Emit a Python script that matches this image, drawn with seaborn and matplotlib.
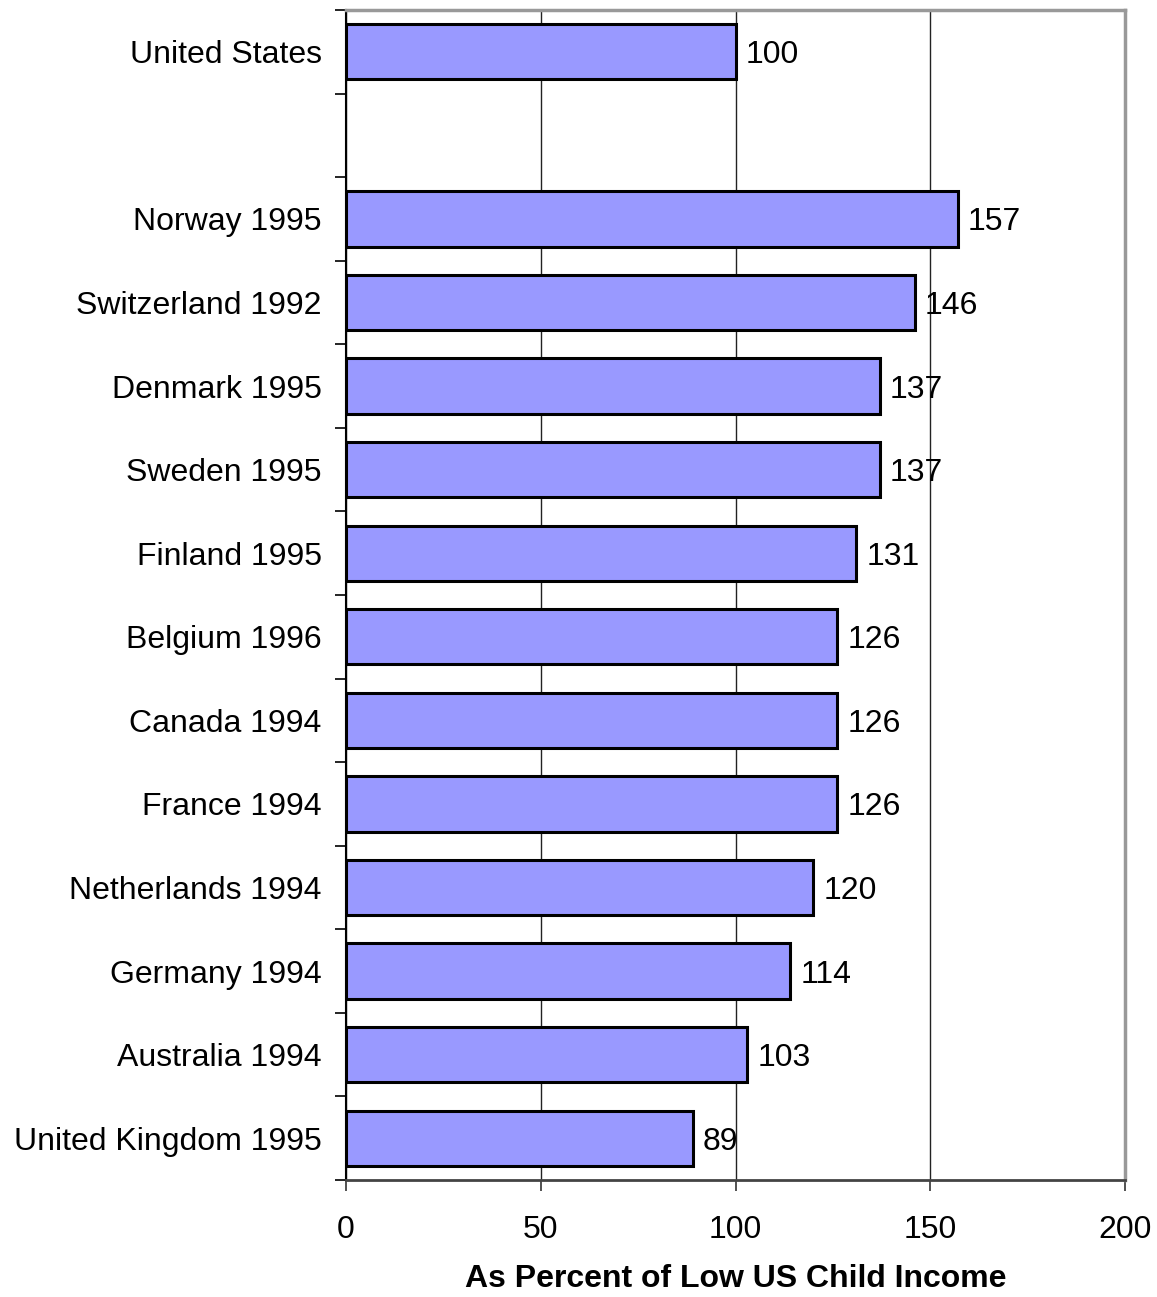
import matplotlib
matplotlib.use("Agg")
import matplotlib.pyplot as plt
import seaborn as sns
import pandas as pd
import numpy as np
from matplotlib.ticker import FixedLocator

categories = ["United States", "Norway 1995", "Switzerland 1992", "Denmark 1995",
              "Sweden 1995", "Finland 1995", "Belgium 1996", "Canada 1994",
              "France 1994", "Netherlands 1994", "Germany 1994", "Australia 1994",
              "United Kingdom 1995"]
values = [100, 157, 146, 137, 137, 131, 126, 126, 126, 120, 114, 103, 89]
order = ["United States", " "] + categories[1:]
x_ticks = [0, 50, 100, 150, 200]
xlabel = "As Percent of Low US Child Income"

sns.set_theme(style="white")
plt.rcParams['font.family'] = ['Liberation Sans', 'DejaVu Sans']

FS = 23

df = pd.DataFrame({"country": categories, "value": values})

fig = plt.figure(figsize=(11.57, 12.97), dpi=100)
ax = fig.add_axes([346/1157, 1 - 1180/1297, (1125-346)/1157, (1180-10)/1297])

sns.barplot(data=df, x="value", y="country", order=order, orient="h",
            color="#9999FF", saturation=1, width=0.66,
            edgecolor="black", linewidth=2.2, ax=ax, zorder=3)

for c in ax.containers:
    labels = [f"{v:.0f}" if np.isfinite(v) else "" for v in c.datavalues]
    texts = ax.bar_label(c, labels=labels, padding=7.5, fontsize=FS, color="black")
    for t in texts:
        t.set_va("center_baseline")

n = len(order)
ax.set_xlim(0, 200)
ax.set_ylim(n - 0.5, -0.5)
ax.set_xticks(x_ticks)
ax.set_xticklabels([str(t) for t in x_ticks])
ax.set_yticks(range(n))
ax.set_yticklabels(order)
ax.yaxis.set_minor_locator(FixedLocator(np.arange(-0.5, n + 0.5, 1)))
ax.tick_params(axis="y", which="major", length=0, pad=17.5, labelsize=FS, labelcolor="black")
ax.tick_params(axis="y", which="minor", left=True, length=8, width=1.2, color="black")
ax.tick_params(axis="x", which="major", bottom=True, length=8, width=1.2, color="#333333",
               pad=17, labelsize=FS, labelcolor="black")

ax.grid(axis="x", color="#222222", linewidth=1, zorder=0)
ax.grid(axis="y", visible=False)
ax.set_axisbelow(True)

ax.set_ylabel("")
ax.set_xlabel(xlabel, fontsize=FS, fontweight="bold", labelpad=14, color="black")

ax.spines["left"].set_color("black")
ax.spines["left"].set_linewidth(1.5)
ax.spines["bottom"].set_color("#444444")
ax.spines["bottom"].set_linewidth(2)
ax.spines["top"].set_color("#999999")
ax.spines["top"].set_linewidth(2.5)
ax.spines["right"].set_color("#999999")
ax.spines["right"].set_linewidth(2.5)
for s in ax.spines.values():
    s.set_visible(True)
    s.set_zorder(4)

fig.savefig("out.png", dpi=100, facecolor="white")
